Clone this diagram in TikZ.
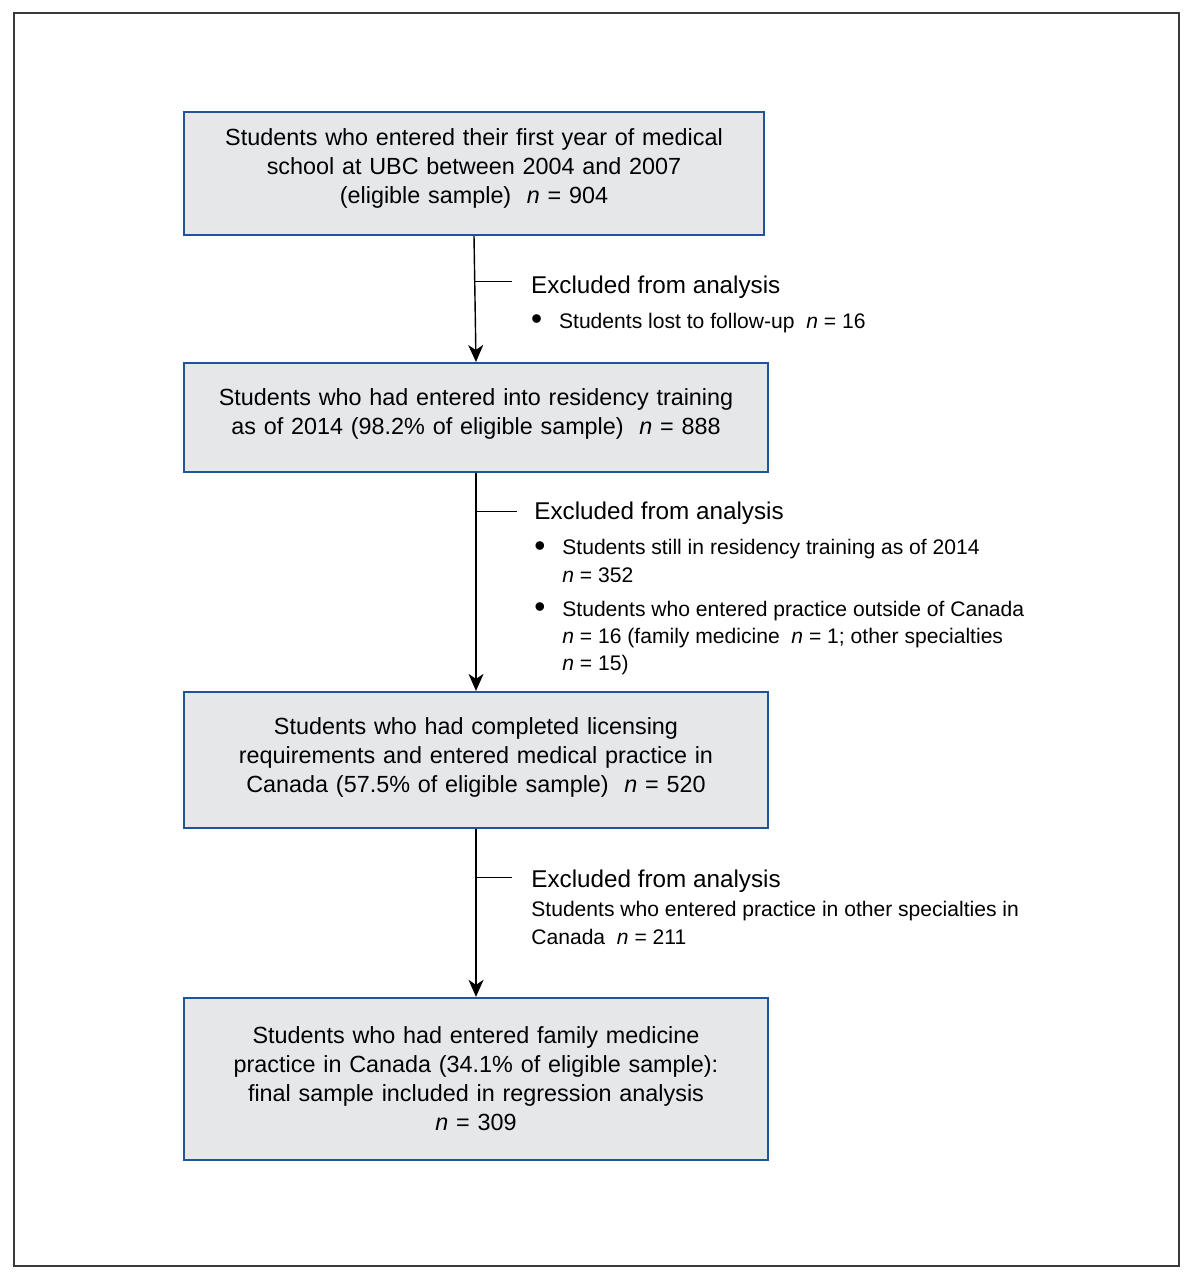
\documentclass[tikz,border=0pt]{standalone}
\usepackage{fontspec}
\setmainfont{Liberation Sans}
\usetikzlibrary{arrows.meta,positioning}
\definecolor{boxblue}{HTML}{1F5496}
\definecolor{boxfill}{HTML}{E6E7E9}
\definecolor{framegray}{HTML}{3A3A3A}
\newcommand{\boxfont}{\fontsize{13.3}{16.5}\selectfont}
\newcommand{\headfont}{\fontsize{13.8}{16.5}\selectfont}
\newcommand{\notefont}{\fontsize{12}{15.4}\selectfont}
\newcommand{\nn}{\textit{n}}
\newcommand{\dotmark}{\raisebox{-0.05em}{\scalebox{1.5}{\textbullet}}}
\newcommand{\padbottom}[1]{\rule[-#1]{0pt}{#1}}
\tikzset{
  stagebox/.style={
    rectangle, draw=boxblue, line width=1.1pt,
    fill=boxfill, text width=11.2cm, align=center,
    minimum width=11.68cm, inner sep=0pt, font=\boxfont
  },
  flowarrow/.style={-{Stealth[length=3.4mm,width=3mm,inset=1mm]}, line width=0.8pt, color=black},
  tickline/.style={line width=0.6pt, color=black},
  excnote/.style={inner sep=0pt, font=\notefont},
}

\begin{document}
\begin{tikzpicture}
  \useasboundingbox (0,0) rectangle (23.86,-25.6);
  \draw[framegray, line width=0.6pt] (0.28,-0.26) rectangle (23.58,-25.32);

  \node[stagebox, minimum width=11.6cm, minimum height=2.46cm] (entry) at (9.48,-3.47)
    {Students who entered their first year of medical\\school at UBC between 2004 and 2007\\(eligible sample)\ \ \nn{} = 904\padbottom{8pt}};
  \node[stagebox, minimum height=2.18cm, below=2.52cm of entry, xshift=0.04cm] (resid)
    {Students who had entered into residency training\\as of 2014 (98.2\% of eligible sample)\ \ \nn{} = 888\padbottom{7pt}};
  \node[stagebox, minimum height=2.72cm, below=4.36cm of resid] (licensed)
    {Students who had completed licensing\\requirements and entered medical practice in\\Canada (57.5\% of eligible sample)\ \ \nn{} = 520\padbottom{6pt}};
  \node[stagebox, minimum height=3.24cm, below=3.36cm of licensed] (famprac)
    {Students who had entered family medicine\\practice in Canada (34.1\% of eligible sample):\\final sample included in regression analysis\\\nn{} = 309};

  \draw[flowarrow] (entry.south) -- (resid.north);
  \draw[flowarrow] (resid.south) -- (licensed.north);
  \draw[flowarrow] (licensed.south) -- (famprac.north);

  % branch points for the exclusions
  \path (entry.south) -- (resid.north) coordinate[pos=0.36] (br1);
  \path (resid.south) -- (licensed.north) coordinate[pos=0.177] (br2);
  \path (licensed.south) -- (famprac.north) coordinate[pos=0.29] (br3);
  \coordinate[right=0.74cm of br1] (tk1);
  \coordinate[right=0.82cm of br2] (tk2);
  \coordinate[right=0.72cm of br3] (tk3);
  \draw[tickline] (br1) -- (tk1);
  \draw[tickline] (br2) -- (tk2);
  \draw[tickline] (br3) -- (tk3);

  \node[excnote, right=1.12cm of br1, anchor=base west, yshift=-0.24cm] (lost)
    {\begin{tabular}[t]{@{}p{0.56cm}@{}l@{}}
      \multicolumn{2}{@{}l@{}}{\headfont Excluded from analysis}\\[4.5pt]
      \dotmark & Students lost to follow-up\ \ \nn{} = 16
    \end{tabular}};
  \node[excnote, right=1.16cm of br2, anchor=base west, yshift=-0.17cm] (stillres)
    {\begin{tabular}[t]{@{}p{0.56cm}@{}l@{}}
      \multicolumn{2}{@{}l@{}}{\headfont Excluded from analysis}\\[4.5pt]
      \dotmark & Students still in residency training as of 2014\\
      & \nn{} = 352\\[4pt]
      \dotmark & Students who entered practice outside of Canada\\
      & \nn{} = 16 (family medicine\ \ \nn{} = 1; other specialties\\
      & \nn{} = 15)
    \end{tabular}};
  \node[excnote, right=1.1cm of br3, anchor=base west, yshift=-0.2cm] (otherspec)
    {\begin{tabular}[t]{@{}l@{}}
      {\headfont Excluded from analysis}\\[1.1pt]
      Students who entered practice in other specialties in\\[0.5pt]
      Canada\ \ \nn{} = 211
    \end{tabular}};
\end{tikzpicture}
\end{document}
